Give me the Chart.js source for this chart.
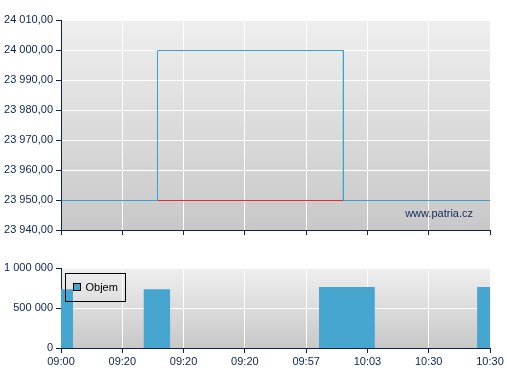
<!DOCTYPE html>
<html>
<head>
<meta charset="utf-8">
<script src="https://cdn.jsdelivr.net/npm/chart.js@4/dist/chart.umd.min.js"></script>
<style>
  body { margin: 0; background: #fff; }
  #wrap { position: relative; width: 507px; height: 380px; }
  canvas { position: absolute; left: 0; }
</style>
</head>
<body>
<div id="wrap">
  <canvas id="priceChart" width="507" height="250" style="top:0"></canvas>
  <canvas id="volChart" width="507" height="130" style="top:250px"></canvas>
</div>
<script>
// x axis labels (evenly spaced ticks 0..7)
const timeLabels = ['09:00', '09:20', '09:20', '09:20', '09:57', '10:03', '10:30', '10:30'];

// price line (blue) and the red segment
const priceX = [0, 1.566, 1.566, 4.6, 4.6, 7];
const priceY = [23950, 23950, 24000, 24000, 23950, 23950];
const redX = [1.566, 4.6];
const redY = [23950, 23950];

// volume blocks
const volStart = [0, 1.35, 4.21, 6.79];
const volEnd = [0.196, 1.78, 5.12, 7.0];
const volValues = [734000, 734000, 763000, 763000];

const priceTicks = { min: 23940, max: 24010, step: 10 };
const volTicks = { min: 0, max: 1000000, step: 500000 };

const navy = '#0c2255';
const FONT = { family: 'Arial, "Liberation Sans", sans-serif', size: 11 };

function fmt(v, dec) {
  const parts = v.toFixed(dec).split('.');
  const int = parts[0].replace(/\B(?=(\d{3})+(?!\d))/g, ' ');
  return parts[1] ? int + ',' + parts[1] : int;
}

const bgPlugin = {
  id: 'bg',
  beforeDraw(chart) {
    const { ctx, chartArea: a } = chart;
    const g = ctx.createLinearGradient(0, a.top, 0, a.bottom);
    g.addColorStop(0, '#efefef');
    g.addColorStop(1, '#c8c8c8');
    ctx.save();
    ctx.fillStyle = g;
    ctx.fillRect(a.left, a.top, a.right - a.left, a.bottom - a.top);
    ctx.restore();
  }
};

// shift 1px lines onto the pixel grid so they stay sharp
const crispPlugin = {
  id: 'crisp',
  beforeDatasetsDraw(chart) { chart.ctx.save(); chart.ctx.translate(0.5, 0.5); },
  afterDatasetsDraw(chart) { chart.ctx.restore(); }
};

function xScale(showLabels, height) {
  return {
    type: 'linear', min: 0, max: 7,
    grid: { color: '#ffffff', lineWidth: 1, tickColor: navy, tickLength: 5 },
    border: { color: navy, width: 1 },
    ticks: {
      display: showLabels, stepSize: 1, color: navy, font: FONT, padding: 2,
      maxRotation: 0, autoSkip: false,
      callback: v => timeLabels[v]
    },
    afterFit: s => { s.height = height; }
  };
}

function yScale(t, dec) {
  return {
    min: t.min, max: t.max,
    grid: { color: '#ffffff', lineWidth: 1, tickColor: navy, tickLength: 5 },
    border: { color: navy, width: 1 },
    ticks: { stepSize: t.step, color: navy, font: FONT, padding: 3, callback: v => fmt(v, dec) },
    afterFit: s => { s.width = 61; }
  };
}

const toPts = (xs, ys) => xs.map((x, i) => ({ x: x, y: ys[i] }));

// top chart: price
new Chart(document.getElementById('priceChart'), {
  type: 'line',
  data: {
    datasets: [
      { data: toPts(priceX, priceY), borderColor: '#3aa0d6', borderWidth: 1, pointRadius: 0, tension: 0 },
      { data: toPts(redX, redY), borderColor: '#e52b2b', borderWidth: 1, pointRadius: 0, tension: 0 }
    ]
  },
  options: {
    responsive: false, animation: false,
    layout: { padding: { top: 20, right: 17, left: 0, bottom: 0 } },
    plugins: { legend: { display: false }, tooltip: { enabled: false } },
    scales: { x: xScale(false, 20), y: yScale(priceTicks, 2) }
  },
  plugins: [bgPlugin, crispPlugin, {
    id: 'watermark',
    afterDraw(chart) {
      const { ctx, chartArea: a } = chart;
      ctx.save();
      ctx.font = '11px Arial, "Liberation Sans", sans-serif';
      ctx.fillStyle = '#14285a';
      ctx.textAlign = 'right';
      ctx.textBaseline = 'middle';
      ctx.fillText('www.patria.cz', a.right - 17, a.bottom - 16);
      ctx.restore();
    }
  }]
});

// bottom chart: volume
const volPts = [];
volStart.forEach((s, i) => {
  volPts.push({ x: s, y: 0 }, { x: s, y: volValues[i] }, { x: volEnd[i], y: volValues[i] }, { x: volEnd[i], y: 0 });
});

new Chart(document.getElementById('volChart'), {
  type: 'line',
  data: {
    datasets: [{
      label: 'Objem', data: volPts, borderWidth: 0, borderColor: 'rgba(0,0,0,0)',
      backgroundColor: '#47a6cf', fill: 'origin', pointRadius: 0, tension: 0
    }]
  },
  options: {
    responsive: false, animation: false,
    layout: { padding: { top: 18, right: 17, left: 0, bottom: 0 } },
    plugins: { legend: { display: false }, tooltip: { enabled: false } },
    scales: { x: xScale(true, 32), y: yScale(volTicks, 0) }
  },
  plugins: [bgPlugin, {
    id: 'boxLegend',
    afterDraw(chart) {
      const { ctx, chartArea: a } = chart;
      const x = a.left + 4.5, y = a.top + 5.5;
      ctx.save();
      ctx.strokeStyle = '#000';
      ctx.lineWidth = 1;
      ctx.strokeRect(x, y, 60, 28);
      ctx.fillStyle = '#47a6cf';
      ctx.fillRect(x + 8, y + 10, 7, 7);
      ctx.strokeRect(x + 8, y + 10, 7, 7);
      ctx.fillStyle = '#000';
      ctx.font = '11px Arial, "Liberation Sans", sans-serif';
      ctx.textBaseline = 'middle';
      ctx.fillText(chart.data.datasets[0].label, x + 20, y + 14);
      ctx.restore();
    }
  }]
});
</script>
</body>
</html>
